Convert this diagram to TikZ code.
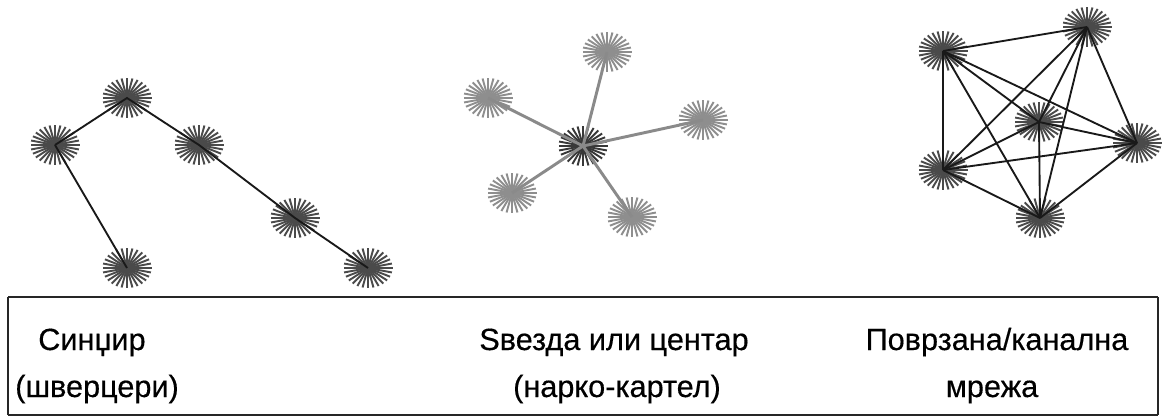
\documentclass[tikz,border=0pt]{standalone}
\usepackage{fontspec}
\setmainfont[FakeBold=0.4]{Liberation Sans}
\definecolor{burstdark}{HTML}{4A4A4A}
\definecolor{burstlight}{HTML}{8E8E8E}
\definecolor{burstcore}{HTML}{383838}
\definecolor{staredge}{HTML}{8A8A8A}
\tikzset{
  spoke/.style={line width=1.45pt, line cap=butt},
  chainedge/.style={line width=1.4pt, black!90},
  staredgestyle/.style={line width=2.2pt, staredge},
  meshedge/.style={line width=1.4pt, black!90},
  lbl/.style={inner sep=0pt, font=\fontsize{23}{28}\selectfont},
  frame/.style={line width=1.1pt, black!85},
  topframe/.style={line width=2.2pt, black!85}
}
\newcommand{\burstat}[2]{%
  \foreach \ang in {0,12.8571,...,350}
    \draw[spoke,#2] (#1) -- ++(\ang:24.5 and 20);
}
\begin{document}
\begin{tikzpicture}[x=0.75pt,y=-0.75pt]
\useasboundingbox (0,0) rectangle (1166,417);
% chain
\coordinate (c1) at (127,98);
\coordinate (c2) at (55,145);
\coordinate (c3) at (199,145);
\coordinate (c4) at (127,268);
\coordinate (c5) at (295,218);
\coordinate (c6) at (368,268);
% star
\coordinate (s0) at (583,146);
\coordinate (s1) at (607,52);
\coordinate (s2) at (488,98);
\coordinate (s3) at (703,120);
\coordinate (s4) at (512,193);
\coordinate (s5) at (632,217);
% mesh
\coordinate (m1) at (943,51);
\coordinate (m2) at (1087,27);
\coordinate (m3) at (1039,122);
\coordinate (m4) at (1137,143);
\coordinate (m5) at (943,170);
\coordinate (m6) at (1040,218);
% bursts
\foreach \n in {c1,c2,c3,c4,c5,c6} {\burstat{\n}{burstdark}}
\foreach \n in {s1,s2,s3,s4,s5} {\burstat{\n}{burstlight}}
\burstat{s0}{burstcore}
\foreach \n in {m1,m2,m3,m4,m5,m6} {\burstat{\n}{burstdark}}
% chain edges
\draw[chainedge] (c2) -- (c1) -- (c3) -- (c5) -- (c6);
\draw[chainedge] (c2) -- (c4);
% star edges
\foreach \n in {s1,s2,s3,s4,s5} \draw[staredgestyle] (s0) -- (\n);
% mesh edges (complete graph)
\foreach \a/\b in {m1/m2,m1/m3,m1/m4,m1/m5,m1/m6,m2/m3,m2/m4,m2/m5,m2/m6,m3/m4,m3/m5,m3/m6,m4/m5,m4/m6,m5/m6}
  \draw[meshedge] (\a) -- (\b);
% frame
\coordinate (bl) at (8,415);
\coordinate (tl) at (8,297);
\coordinate (tr) at (1158,297);
\coordinate (br) at (1158,415);
\draw[frame] (bl) -- (tl);
\draw[frame] (tr) -- (br);
\draw[frame] (bl) -- (br);
\draw[topframe] (tl) -- (tr);
% labels
\node[lbl, anchor=base west] (t1) at (38,350) {Синџир};
\node[lbl, anchor=base west] (t2) at (15,397) {(шверцери)};
\node[lbl, anchor=base] (t3) at (614,350) {Ѕвезда или центар};
\node[lbl, anchor=base] (t4) at (617,397) {(нарко-картел)};
\node[lbl, anchor=base] (t5) at (997,350) {Поврзана/канална};
\node[lbl, anchor=base] (t6) at (992,397) {мрежа};
\end{tikzpicture}
\end{document}
